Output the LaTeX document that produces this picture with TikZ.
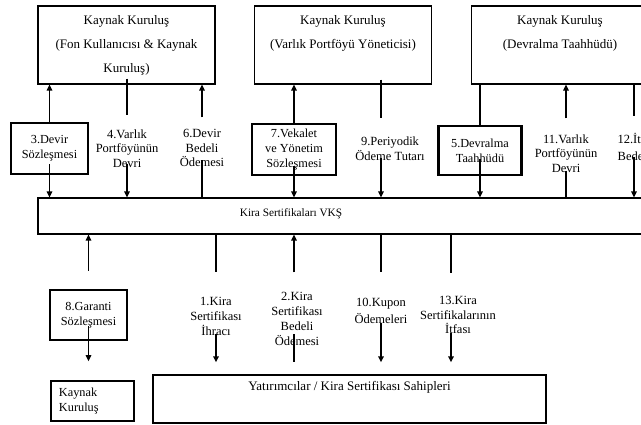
\documentclass[tikz,border=0pt]{standalone}
\usepackage{fontspec}
\setmainfont{Liberation Serif}
\usetikzlibrary{arrows.meta,positioning}

\tikzset{
  kbox/.style={draw, line width=1.1pt, minimum width=177pt, minimum height=78pt},
  ktext/.style={align=center, inner sep=0pt, font=\fontsize{13}{24}\selectfont},
  kbold/.style={draw, line width=2.4pt, inner sep=0pt, align=center,
    font=\fontsize{12.3}{15}\selectfont},
  lbl/.style={align=center, inner sep=0pt, anchor=north,
    font=\fontsize{12.5}{14.5}\selectfont},
  lnk/.style={line width=1.8pt},
  thinlnk/.style={line width=1.1pt},
  arr/.style={-{Triangle[length=6pt,width=5.5pt]}},
}

\begin{document}
\begin{tikzpicture}[x=1pt, y=-1pt]
  \path[use as bounding box, fill=white] (0,0) rectangle (641,425);

  % kaynak kuruluslar
  \node[kbox] (top1) at (126.5,45) {};
  \node[kbox] (top2) at (343,45) {};
  \node[kbox] (top3) at (560,45) {};
  \node[ktext, below=10pt of top1.north] (t1) {Kaynak Kuruluş\\(Fon Kullanıcısı \& Kaynak\\Kuruluş)};
  \node[ktext, below=10pt of top2.north] (t2) {Kaynak Kuruluş\\(Varlık Portföyü Yöneticisi)};
  \node[ktext, below=10pt of top3.north] (t3) {Kaynak Kuruluş\\(Devralma Taahhüdü)};

  % VKS
  \node[draw, line width=1.1pt, minimum width=640pt, minimum height=36pt] (bus) at (358,216) {};
  \node[inner sep=0pt, font=\fontsize{11.3}{13}\selectfont] (bustxt) at (291,214) {Kira Sertifikaları VKŞ};

  % yatirimcilar
  \node[draw, line width=1.5pt, minimum width=83pt, minimum height=40pt, text width=67pt,
    inner xsep=8pt, align=left, font=\fontsize{12.3}{15}\selectfont] (kay) at (92.5,401) {Kaynak\\Kuruluş};
  \node[draw, line width=1.4pt, minimum width=393pt, minimum height=48pt] (yat) at (349.5,399) {};
  \node[inner sep=0pt, font=\fontsize{13}{15}\selectfont, below=7pt of yat.north] (yattxt)
    {Yatırımcılar / Kira Sertifikası Sahipleri};

  % ust etiketler
  \node[kbold, minimum width=77pt, minimum height=51pt] (lb3) at (49.5,148.5) {3.Devir\\Sözleşmesi};
  \node[lbl] (lb4) at (127,129.5) {4.Varlık\\Portföyünün\\Devri};
  \node[lbl] (lb6) at (202,129.5) {6.Devir\\Bedeli\\Ödemesi};
  \node[kbold, minimum width=84pt, minimum height=51pt] (lb7) at (294,149.5) {7.Vekalet\\ve Yönetim\\Sözleşmesi};
  \node[lbl, font=\fontsize{12.5}{15}\selectfont] (lb9) at (390,136.5) {9.Periyodik\\Ödeme Tutarı};
  \node[kbold, minimum width=83pt, minimum height=49pt] (lb5) at (480,150.5) {5.Devralma\\Taahhüdü};
  \node[lbl] (lb11) at (566,134.5) {11.Varlık\\Portföyünün\\Devri};
  \node[lbl, font=\fontsize{12.5}{17}\selectfont] (lb12) at (634,132.5) {12.İtfa\\Bedeli};

  % alt etiketler
  \node[kbold, minimum width=77pt, minimum height=50pt] (lb8) at (88.5,315) {8.Garanti\\Sözleşmesi};
  \node[lbl, font=\fontsize{12.5}{15}\selectfont] (lb1) at (216,297.5) {1.Kira\\Sertifikası\\İhracı};
  \node[lbl, font=\fontsize{12.5}{15}\selectfont] (lb2) at (297,292.5) {2.Kira\\Sertifikası\\Bedeli\\Ödemesi};
  \node[lbl, font=\fontsize{12.5}{17}\selectfont] (lb10) at (381,297.5) {10.Kupon\\Ödemeleri};
  \node[lbl] (lb13) at (458,296.5) {13.Kira\\Sertifikalarının\\İtfası};

  % ust baglantilar
  \draw[lnk, arr] (lb3.north) -- (lb3 |- top1.south);
  \draw[lnk, arr] ([yshift=11pt]lb3.south) -- (lb3 |- bus.north);
  \draw[lnk, shorten >=14pt] ([yshift=6pt]lb4 |- top1.south) -- (lb4.north);
  \draw[lnk, arr] ([yshift=4pt]lb4.south) -- (lb4 |- bus.north);
  \draw[lnk, arr, shorten <=12pt] (lb6.north) -- (lb6 |- top1.south);
  \draw[thinlnk] ([yshift=7pt]lb6.south) -- (lb6 |- bus.north);
  \draw[lnk, arr] (lb7.north) -- (lb7 |- top2.south);
  \draw[lnk, arr] ([yshift=10pt]lb7.south) -- (lb7 |- bus.north);
  \draw[lnk, shorten >=18pt] ([xshift=-9pt, yshift=5pt]lb9.north |- top2.south) -- ([xshift=-9pt]lb9.north);
  \draw[lnk, arr] ([xshift=-9pt, yshift=3pt]lb9.south) -- ([xshift=-9pt]lb9.south |- bus.north);
  \draw[thinlnk] (lb5 |- top3.south) -- (lb5.north);
  \draw[lnk, arr] ([yshift=17pt]lb5.south) -- (lb5 |- bus.north);
  \draw[lnk, arr, shorten <=16pt] (lb11.north) -- (lb11 |- top3.south);
  \draw[thinlnk] ([yshift=2pt]lb11.south) -- (lb11 |- bus.north);
  \draw[lnk, shorten >=16pt] (lb12 |- top3.south) -- (lb12.north);
  \draw[lnk, arr] ([yshift=3pt]lb12.south) -- (lb12 |- bus.north);

  % alt baglantilar
  \draw[lnk, arr, shorten <=18pt] (lb8.north) -- (lb8 |- bus.south);
  \draw[lnk, arr, shorten >=19pt] ([yshift=15pt]lb8.south) -- (lb8 |- kay.north);
  \draw[thinlnk, shorten >=25pt] (lb1 |- bus.south) -- (lb1.north);
  \draw[lnk, arr, shorten >=12pt] ([yshift=2pt]lb1.south) -- (lb1 |- yat.north);
  \draw[lnk, arr, shorten <=20pt] ([xshift=-3pt]lb2.north) -- ([xshift=-3pt]lb2.north |- bus.south);
  \draw[lnk, shorten >=12pt] ([xshift=-3pt, yshift=12pt]lb2.south) -- ([xshift=-3pt]lb2.south |- yat.north);
  \draw[lnk, shorten >=25pt] (lb10 |- bus.south) -- (lb10.north);
  \draw[lnk, arr, shorten >=12pt] (lb10.south) -- (lb10 |- yat.north);
  \draw[lnk, shorten >=23pt] ([xshift=-7pt]lb13.north |- bus.south) -- ([xshift=-7pt]lb13.north);
  \draw[lnk, arr, shorten >=12pt] ([xshift=-7pt, yshift=1pt]lb13.south) -- ([xshift=-7pt]lb13.south |- yat.north);
\end{tikzpicture}
\end{document}
